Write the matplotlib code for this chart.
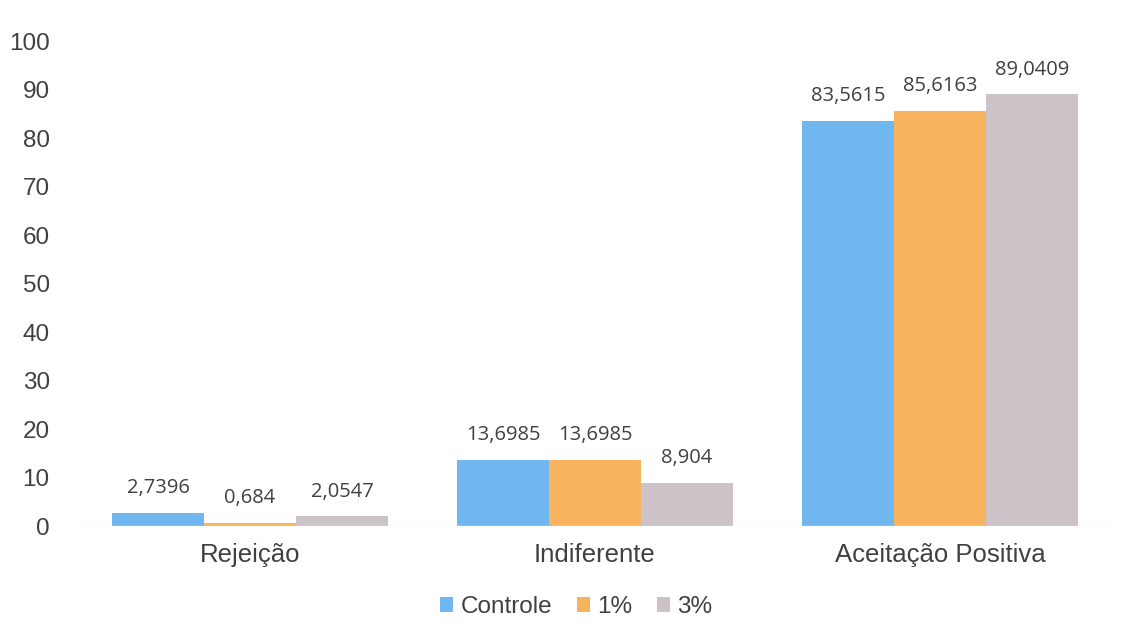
import numpy as np
import matplotlib.pyplot as plt

categories = ['Rejeição', 'Indiferente', 'Aceitação Positiva']
series = ['Controle', '1%', '3%']
controle = [2.7396, 13.6985, 83.5615]
um = [0.684, 13.6985, 85.6163]
tres = [2.0547, 8.904, 89.0409]
labels = [['2,7396', '13,6985', '83,5615'],
          ['0,684', '13,6985', '85,6163'],
          ['2,0547', '8,904', '89,0409']]
colors = ['#70B7F0', '#F8B35E', '#CBC3C8']

plt.rcParams['font.family'] = ['Liberation Sans', 'DejaVu Sans']
fig = plt.figure(figsize=(11.28, 6.38), dpi=100)
ax = fig.add_axes([0.0687, 0.1755, 0.9175, 0.760])

x = np.arange(len(categories))
w = 0.8 / 3
for i, (vals, col, name) in enumerate(zip([controle, um, tres], colors, series)):
    pos = x + (i - 1) * w
    ax.bar(pos, vals, w, color=col, label=name)
    for p, v, t in zip(pos, vals, labels[i]):
        ax.text(p, v + 3.0, t, ha='center', va='bottom', fontsize=14.5,
                color='#404040', family='Open Sans')

ax.set_xlim(-0.5, 2.5)
ax.set_ylim(0, 100)
ax.set_yticks(range(0, 101, 10))
ax.set_xticks(x)
ax.set_xticklabels(categories, fontsize=18.5)
ax.tick_params(axis='both', length=0, colors='#404040')
ax.tick_params(axis='y', labelsize=17.5, pad=20)
ax.tick_params(axis='x', pad=12)
for s in ax.spines.values():
    s.set_visible(False)
ax.axhline(0, color='#E6E6E6', lw=1)

ax.legend(loc='upper center', bbox_to_anchor=(0.482, -0.10), ncol=3, frameon=False,
          fontsize=17.5, handlelength=0.55, handleheight=0.55, handletextpad=0.3,
          columnspacing=1.0, labelcolor='#404040')

fig.savefig('out.png', dpi=100)
